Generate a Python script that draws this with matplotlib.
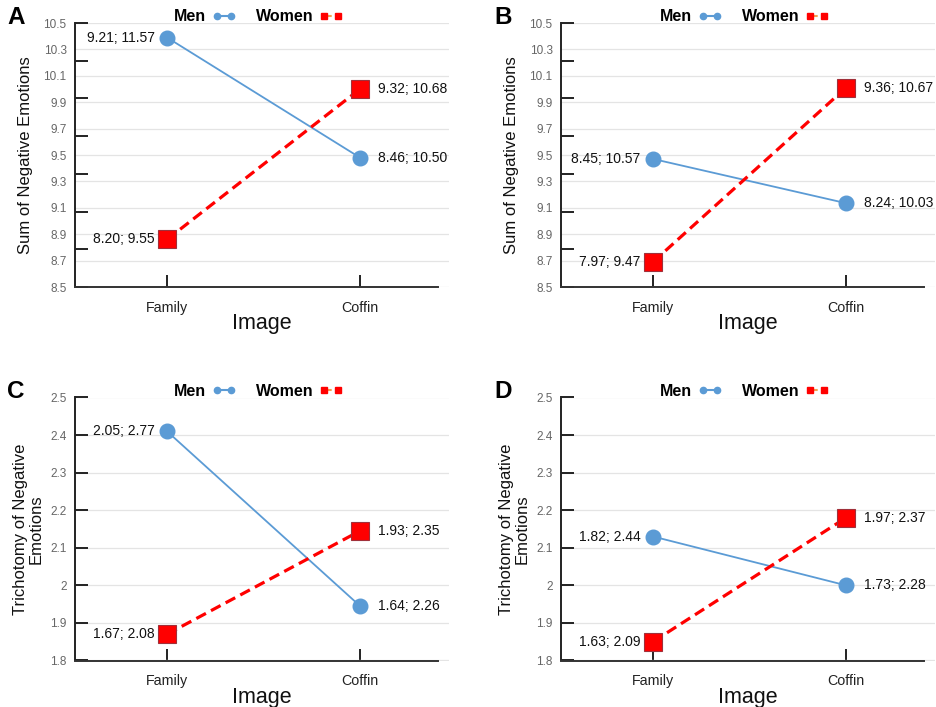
import numpy as np
import matplotlib.pyplot as plt
from matplotlib.lines import Line2D

plt.rcParams["font.family"] = ["Liberation Sans", "DejaVu Sans"]

images = ["Family", "Coffin"]
panel_letters = ["A", "B", "C", "D"]

# marker positions (midpoint of each interval)
men_a = [10.39, 9.48]
women_a = [8.86, 10.00]
men_b = [9.47, 9.135]
women_b = [8.69, 10.01]
men_c = [2.41, 1.945]
women_c = [1.87, 2.145]
men_d = [2.13, 2.00]
women_d = [1.85, 2.18]

# interval labels printed next to each marker
men_lbl_a = ["9.21; 11.57", "8.46; 10.50"]
women_lbl_a = ["8.20; 9.55", "9.32; 10.68"]
men_lbl_b = ["8.45; 10.57", "8.24; 10.03"]
women_lbl_b = ["7.97; 9.47", "9.36; 10.67"]
men_lbl_c = ["2.05; 2.77", "1.64; 2.26"]
women_lbl_c = ["1.67; 2.08", "1.93; 2.35"]
men_lbl_d = ["1.82; 2.44", "1.73; 2.28"]
women_lbl_d = ["1.63; 2.09", "1.97; 2.37"]

sum_ticks = ["8.5", "8.7", "8.9", "9.1", "9.3", "9.5", "9.7", "9.9", "10.1", "10.3", "10.5"]
tri_ticks = ["1.8", "1.9", "2", "2.1", "2.2", "2.3", "2.4", "2.5"]

ylabels = ["Sum of Negative Emotions", "Sum of Negative Emotions",
           "Trichotomy of Negative\nEmotions", "Trichotomy of Negative\nEmotions"]

BLUE = "#5B9BD5"
RED = "#FF0000"

panels = [
    (men_a, women_a, men_lbl_a, women_lbl_a, sum_ticks),
    (men_b, women_b, men_lbl_b, women_lbl_b, sum_ticks),
    (men_c, women_c, men_lbl_c, women_lbl_c, tri_ticks),
    (men_d, women_d, men_lbl_d, women_lbl_d, tri_ticks),
]

W, H = 936, 707
fig = plt.figure(figsize=(W / 100, H / 100), dpi=100)

# axes boxes in pixels: left, top, width, height
boxes = [(75, 23, 374, 264), (561, 23, 374, 264),
         (75, 397.5, 374, 263), (561, 397.5, 374, 263)]
ylab_x = [-0.112, -0.112, -0.083, -0.083]
letter_pos = [(7, 18), (494, 18), (7, 391), (494, 391)]

x = np.arange(len(images))

for i, (men, women, mlbl, wlbl, ticks) in enumerate(panels):
    l, t, w, h = boxes[i]
    ax = fig.add_axes([l / W, 1 - (t + h) / H, w / W, h / H])

    vals = [float(s) for s in ticks]
    lo, hi = vals[0], vals[-1]

    ax.plot(x, men, color=BLUE, lw=1.3, marker="o", ms=10.5,
            markerfacecolor=BLUE, markeredgecolor=BLUE, zorder=3)
    ax.plot(x, women, color=RED, lw=2.3, ls=(0, (3.4, 1.8)), marker="s",
            ms=12.5, markerfacecolor=RED, markeredgecolor="#A0303A",
            markeredgewidth=0.8, zorder=4)

    for xi, v, s in zip(x, men, mlbl):
        off, ha = (-9, "right") if xi == 0 else (13, "left")
        ax.annotate(s, (xi, v), xytext=(off, 0), textcoords="offset points",
                    ha=ha, va="center", fontsize=10, color="#111111")
    for xi, v, s in zip(x, women, wlbl):
        off, ha = (-9, "right") if xi == 0 else (13, "left")
        ax.annotate(s, (xi, v), xytext=(off, 0), textcoords="offset points",
                    ha=ha, va="center", fontsize=10, color="#111111")

    ax.set_xlim(-0.477, 1.461)
    ax.set_ylim(lo, hi)
    ax.set_xticks(x)
    ax.set_xticklabels(images, fontsize=10.3, color="#222222")
    ax.tick_params(axis="x", direction="in", length=9, width=1.4,
                   color="#222222", pad=10)

    ax.yaxis.remove_overlapping_locs = False
    ax.set_yticks(vals)
    ax.set_yticklabels(ticks, fontsize=8.5, color="#666666")
    ax.tick_params(axis="y", which="major", length=0, pad=6)
    ax.set_yticks(np.linspace(lo, hi, 8), minor=True)
    ax.tick_params(axis="y", which="minor", direction="in", length=9,
                   width=1.4, color="#222222")
    ax.yaxis.grid(True, which="major", color="#e4e4e4", lw=0.9)
    ax.set_axisbelow(True)

    for side in ["top", "right"]:
        ax.spines[side].set_visible(False)
    ax.spines["left"].set_color("#222222")
    ax.spines["left"].set_linewidth(1.4)
    ax.spines["bottom"].set_color("#333333")
    ax.spines["bottom"].set_linewidth(1.4)
    ax.spines["bottom"].set_bounds(-0.477, 1.404)

    ax.set_xlabel("Image", fontsize=15.5, labelpad=-1, color="#111111")
    ax.set_ylabel(ylabels[i], fontsize=12, color="#111111", linespacing=1.1)
    ax.yaxis.set_label_coords(ylab_x[i], 0.5)

    handles = [
        Line2D([], [], color=BLUE, lw=1.5, marker="o", ms=4.5),
        Line2D([], [], color="#F4A050", lw=1.5, ls="--", marker="s", ms=4.5,
               markerfacecolor=RED, markeredgecolor=RED),
    ]
    ax.legend(handles, ["Men", "Women"], loc="center", ncol=2,
              bbox_to_anchor=(0.49, 1.023), frameon=False, markerfirst=False,
              numpoints=2, handlelength=1.45, handletextpad=0.4,
              columnspacing=1.25, borderpad=0,
              prop={"weight": "bold", "size": 11.5})

    lx, ly = letter_pos[i]
    fig.text(lx / W, 1 - ly / H, panel_letters[i], fontsize=17.5,
             fontweight="bold", ha="left", va="center")

fig.savefig("out.png", dpi=100)
